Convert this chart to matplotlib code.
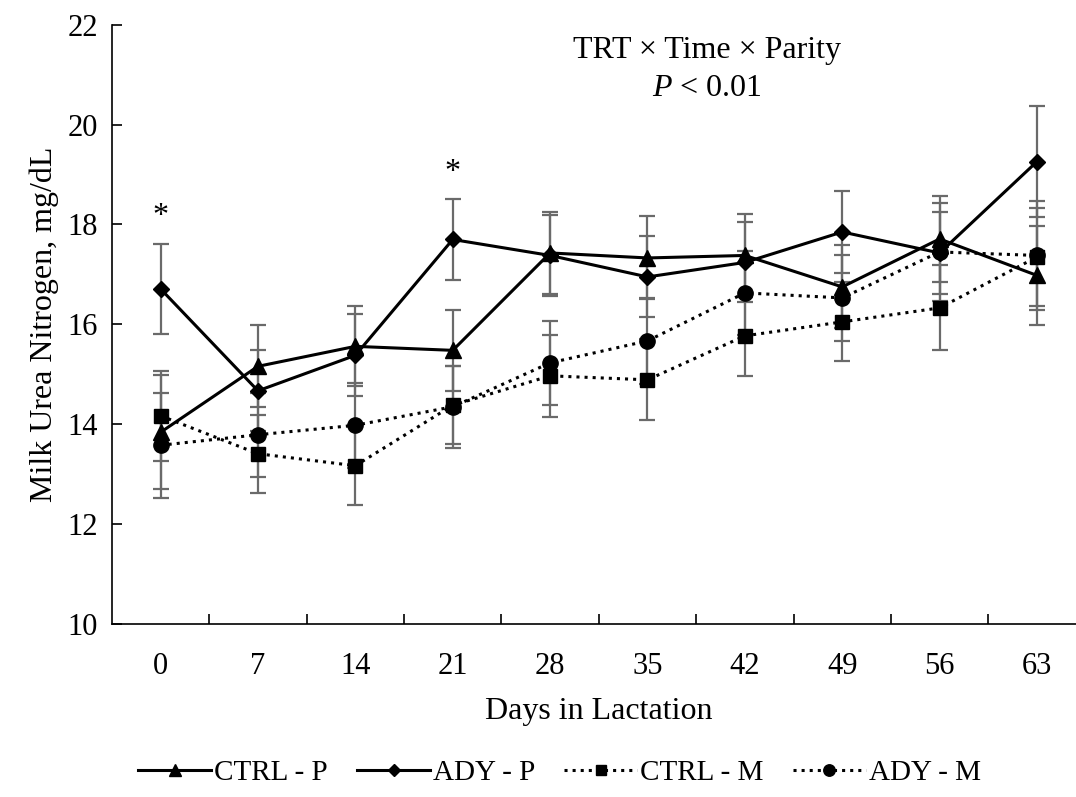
import numpy as np
import matplotlib
matplotlib.use('Agg')
import matplotlib.pyplot as plt

# days in lactation (category axis)
days = ['0', '7', '14', '21', '28', '35', '42', '49', '56', '63']

# means and SE, mg/dL
ctrl_p = [13.84, 15.16, 15.56, 15.48, 17.43, 17.33, 17.38, 16.75, 17.71, 16.98]
ctrl_p_se = [1.14, 0.82, 0.80, 0.81, 0.82, 0.83, 0.83, 0.83, 0.87, 0.99]
ady_p = [16.71, 14.67, 15.38, 17.70, 17.38, 16.95, 17.24, 17.85, 17.43, 19.26]
ady_p_se = [0.90, 0.81, 0.82, 0.81, 0.81, 0.81, 0.80, 0.83, 0.83, 1.12]
ctrl_m = [14.17, 13.41, 13.17, 14.38, 14.97, 14.89, 15.77, 16.05, 16.33, 17.35]
ctrl_m_se = [0.90, 0.78, 0.79, 0.78, 0.82, 0.81, 0.80, 0.79, 0.85, 0.98]
ady_m = [13.58, 13.79, 13.98, 14.35, 15.23, 15.67, 16.63, 16.53, 17.45, 17.38]
ady_m_se = [1.05, 0.84, 0.85, 0.82, 0.84, 0.86, 0.84, 0.86, 0.98, 1.09]

# significance marks: (day index, y position)
star_idx = [0, 3]
star_y = [18.15, 19.05]

plt.rcParams['font.family'] = ['Liberation Serif', 'DejaVu Serif']
plt.rcParams['font.size'] = 22
plt.rcParams['mathtext.fontset'] = 'custom'
plt.rcParams['mathtext.rm'] = 'Liberation Serif'
plt.rcParams['mathtext.it'] = 'Liberation Serif:italic'

fig = plt.figure(figsize=(10.76, 7.97), dpi=100)
ax = fig.add_axes([0.104, 0.217, 0.905, 0.752])

x = np.arange(len(days))
series = [
    (ctrl_p, ctrl_p_se, '^', '-', 11, 'CTRL - P'),
    (ady_p, ady_p_se, 'D', '-', 8.5, 'ADY - P'),
    (ctrl_m, ctrl_m_se, 's', ':', 10.5, 'CTRL - M'),
    (ady_m, ady_m_se, 'o', ':', 11, 'ADY - M'),
]

# error bars first so they sit behind the lines
for vals, se, mk, ls, ms, lab in series:
    ax.errorbar(x, vals, yerr=se, fmt='none', ecolor='#6a6a6a', elinewidth=1.6,
                capsize=6, capthick=1.6, zorder=2)

for vals, se, mk, ls, ms, lab in series:
    ax.plot(x, vals, color='black', linestyle=ls, linewidth=2.2, marker=mk,
            markersize=ms, markerfacecolor='black', markeredgecolor='black',
            label=lab, zorder=3)

for i, yy in zip(star_idx, star_y):
    ax.text(x[i], yy, '*', ha='center', va='center', fontsize=23)

ax.text(5.61, 21.48, 'TRT \u00d7 Time \u00d7 Parity', ha='center', va='center', fontsize=23)
ax.text(5.61, 20.72, '$P$ < 0.01', ha='center', va='center', fontsize=23)

ax.set_xlim(-0.5, len(days) - 0.5)
ax.set_ylim(10, 22)
ax.set_yticks(np.arange(10, 23, 2))

# category ticks between groups, labels centred under the groups
ax.set_xticks(x)
ax.set_xticklabels(days)
ax.set_xticks(np.arange(0.5, len(days) - 0.5, 1), minor=True)
ax.tick_params(axis='x', which='major', length=0, pad=20)
ax.tick_params(axis='x', which='minor', direction='in', length=7, width=1.2)
ax.tick_params(axis='y', direction='in', length=7, width=1.2, pad=10)

for s in ['top', 'right']:
    ax.spines[s].set_visible(False)
for s in ['left', 'bottom']:
    ax.spines[s].set_linewidth(1.2)

ax.set_xlabel('Days in Lactation', labelpad=12, fontsize=23)
ax.set_ylabel('Milk Urea Nitrogen, mg/dL', labelpad=6, fontsize=23)

fig.legend(loc='center', bbox_to_anchor=(0.52, 0.03), ncol=4, frameon=False,
           handlelength=2.5, handletextpad=0.1, columnspacing=1.0, markerscale=0.75,
           fontsize=21)

fig.savefig('out.png', dpi=100)
